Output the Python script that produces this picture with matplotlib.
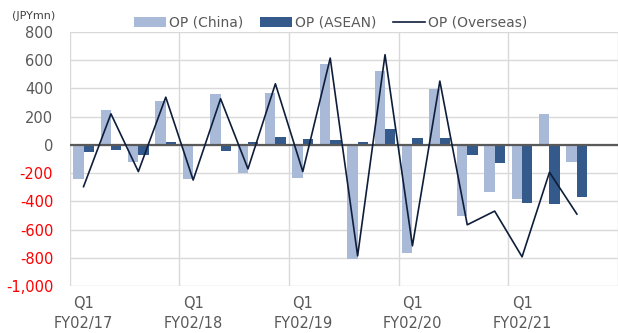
"""Quarterly operating profit by overseas region, FY02/17 - FY02/21."""

import matplotlib

matplotlib.use("Agg")

import matplotlib.pyplot as plt
import numpy as np
from matplotlib.ticker import FuncFormatter

years = ["FY02/17", "FY02/18", "FY02/19", "FY02/20", "FY02/21"]
quarters = ["Q1", "Q2", "Q3", "Q4"]

# JPY mn per quarter; FY02/21 Q4 not reported yet
op_china = [-240, 244, -123, 308,
            -241, 362, -199, 369,
            -237, 570, -805, 523,
            -767, 393, -502, -336,
            -381, 218, -121, np.nan]
op_asean = [-52, -33, -71, 24,
            -10, -43, 24, 59,
            45, 36, 19, 114,
            50, 52, -69, -130,
            -414, -419, -369, np.nan]
op_overseas = [-296, 220, -189, 338,
               -249, 327, -170, 433,
               -189, 615, -786, 639,
               -715, 452, -566, -469,
               -793, -194, -490, np.nan]

C_CHINA = "#A9B9D8"
C_ASEAN = "#335A8A"
C_LINE = "#0E1E3A"
C_TEXT = "#595959"
C_GRID = "#D9D9D9"

plt.rcParams["font.family"] = ["DejaVu Sans"]

n = len(op_china)
x = np.arange(n)
w = 0.38

fig = plt.figure(figsize=(6.18, 3.33), dpi=100)
ax = fig.add_axes([0.113, 0.141, 0.887, 0.763])

b1 = ax.bar(x - w / 2, op_china, width=w, color=C_CHINA, label="OP (China)", zorder=2)
b2 = ax.bar(x + w / 2, op_asean, width=w, color=C_ASEAN, label="OP (ASEAN)", zorder=2)
(l1,) = ax.plot(x, op_overseas, color=C_LINE, lw=1.2, label="OP (Overseas)", zorder=4)
ax.axhline(0, color=C_TEXT, lw=1.6, zorder=3)

ax.set_xlim(-0.5, n - 0.5)
ax.set_ylim(-1000, 800)
ax.set_yticks(np.arange(-1000, 801, 200))
ax.yaxis.set_major_formatter(FuncFormatter(lambda v, _: f"{v:,.0f}"))

# one label per fiscal year, under its Q1
ax.set_xticks(np.arange(0, n, 4))
ax.set_xticklabels([f"{quarters[0]}\n{y}" for y in years], linespacing=1.45)
for xb in np.arange(-0.5, n, 4):
    ax.axvline(xb, color=C_GRID, lw=1.0, zorder=0)

ax.grid(axis="y", color=C_GRID, lw=1.0, zorder=0)
ax.set_axisbelow(True)
ax.tick_params(length=0, labelsize=10.5, labelcolor=C_TEXT)
ax.tick_params(axis="y", pad=12)
ax.tick_params(axis="x", pad=7)
for lbl, v in zip(ax.get_yticklabels(), ax.get_yticks()):
    lbl.set_color("#FF0000" if v < 0 else C_TEXT)
for s in ax.spines.values():
    s.set_visible(False)

fig.text(0.02, 0.952, "(JPYmn)", fontsize=8, color="#404040", va="center")
fig.legend([b1, b2, l1], ["OP (China)", "OP (ASEAN)", "OP (Overseas)"],
           loc="center", bbox_to_anchor=(0.535, 0.932), ncol=3, frameon=False,
           fontsize=10, handlelength=2.3, handleheight=0.7, handletextpad=0.2,
           columnspacing=1.2, labelcolor=C_TEXT)

fig.savefig("out.png", dpi=100)
plt.close(fig)
